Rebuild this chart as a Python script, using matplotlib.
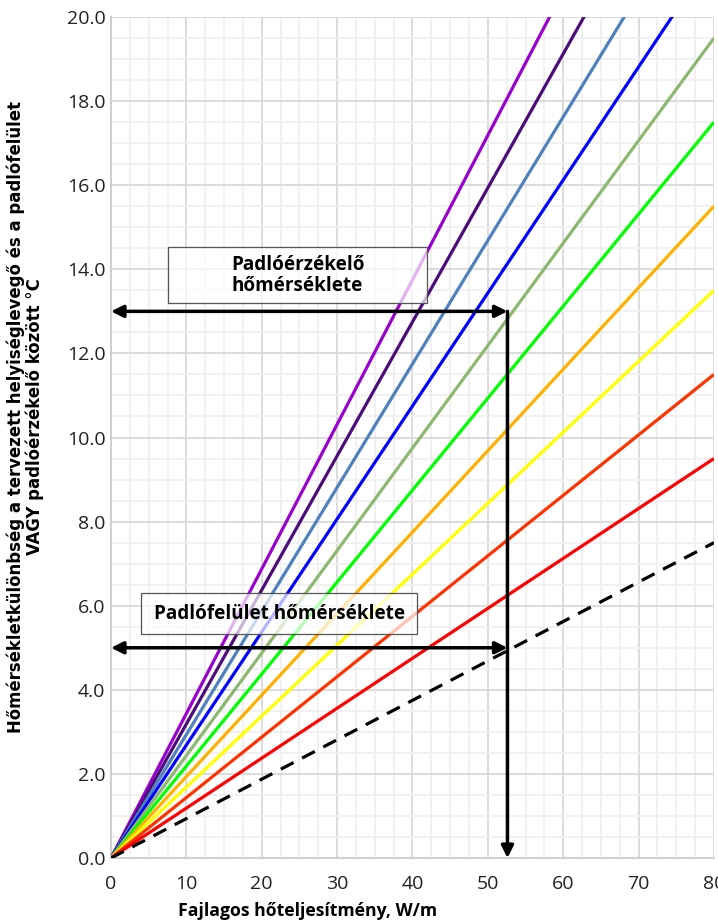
import numpy as np
import matplotlib.pyplot as plt
from matplotlib.patches import Rectangle
from matplotlib.ticker import MultipleLocator, FormatStrFormatter

# temperature difference reached at 80 W/m for each curve
x_pts = [0, 80]
end_vals = [27.5, 25.5, 23.5, 21.5, 19.5, 17.5, 15.5, 13.5, 11.5, 9.5]
colors = ['#9900CC', '#4B0C7A', '#4F81BD', '#0000FF', '#8DB870',
          '#00FF00', '#FFB000', '#FFFF00', '#FF3300', '#FF0000']
dash_end = 7.5

# reading example: 52.6 W/m -> floor surface 5 C / sensor 13 C
q_read = 52.6
t_sensor = 13.0
t_surface = 5.0

plt.rcParams['font.family'] = ['Open Sans', 'DejaVu Sans']

fig = plt.figure(figsize=(7.18, 9.24), dpi=100)
ax = fig.add_axes([0.1546, 0.0714, 0.8398, 0.9102])

for v, c in zip(end_vals, colors):
    ax.plot(x_pts, [0, v], color=c, lw=2.3, solid_capstyle='butt', zorder=3)
ax.plot(x_pts, [0, dash_end], color='black', lw=2.3, ls=(0, (4.5, 3)), zorder=3)

ax.set_xlim(0, 80)
ax.set_ylim(0, 20)
ax.xaxis.set_major_locator(MultipleLocator(10))
ax.xaxis.set_minor_locator(MultipleLocator(2.5))
ax.yaxis.set_major_locator(MultipleLocator(2))
ax.yaxis.set_minor_locator(MultipleLocator(0.5))
ax.yaxis.set_major_formatter(FormatStrFormatter('%.1f'))
ax.grid(which='major', color='#d9d9d9', lw=1.3, zorder=0)
ax.grid(which='minor', color='#f0f0f0', lw=1.3, zorder=0)
ax.set_axisbelow(True)
ax.tick_params(which='both', length=0, labelsize=14, colors='#222222')
ax.tick_params(axis='x', pad=12)
ax.tick_params(axis='y', pad=4)
for s in ['top', 'right']:
    ax.spines[s].set_visible(False)
for s in ['left', 'bottom']:
    ax.spines[s].set_color('#d0d0d0')
    ax.spines[s].set_linewidth(1.5)

# arrows
arr = dict(arrowstyle='<|-|>', color='black', lw=2.5, mutation_scale=18, shrinkA=0, shrinkB=0)
ax.annotate('', xy=(0, t_sensor), xytext=(q_read, t_sensor), arrowprops=arr, zorder=6, annotation_clip=False)
ax.annotate('', xy=(0, t_surface), xytext=(q_read, t_surface), arrowprops=arr, zorder=6, annotation_clip=False)
arr1 = dict(arrowstyle='-|>', color='black', lw=2.5, mutation_scale=18, shrinkA=0, shrinkB=0)
ax.annotate('', xy=(q_read, 0), xytext=(q_read, t_sensor), arrowprops=arr1, zorder=6, annotation_clip=False)

# text boxes
ax.add_patch(Rectangle((7.6, 13.2), 34.3, 1.33, facecolor='white', alpha=0.7,
                       edgecolor='none', zorder=4))
ax.add_patch(Rectangle((7.6, 13.2), 34.3, 1.33, facecolor='none',
                       edgecolor='#555555', lw=0.9, zorder=5))
ax.text(24.75, 13.86, 'Padlóérzékelő\nhőmérséklete', ha='center', va='center',
        fontsize=13.6, fontweight='bold', linespacing=1.05, zorder=6)

ax.add_patch(Rectangle((4.0, 5.33), 36.6, 0.97, facecolor='white', alpha=0.7,
                       edgecolor='none', zorder=4))
ax.add_patch(Rectangle((4.0, 5.33), 36.6, 0.97, facecolor='none',
                       edgecolor='#555555', lw=0.9, zorder=5))
ax.text(22.3, 5.8, 'Padlófelület hőmérséklete', ha='center', va='center',
        fontsize=13.6, fontweight='bold', zorder=6)

fig.text(0.428, 0.014, 'Fajlagos hőteljesítmény, W/m', ha='center', va='center',
         fontsize=12.7, fontweight='bold')
fig.text(0.035, 0.549, 'Hőmérsékletkülönbség a tervezett helyiséglevegő és a padlófelület\nVAGY padlóérzékelő között °C',
         rotation=90, ha='center', va='center', multialignment='center',
         fontsize=13.2, fontweight='bold', fontstretch='condensed', linespacing=1.0,
         family=['DejaVu Sans'])

fig.savefig('out.png', dpi=100)
